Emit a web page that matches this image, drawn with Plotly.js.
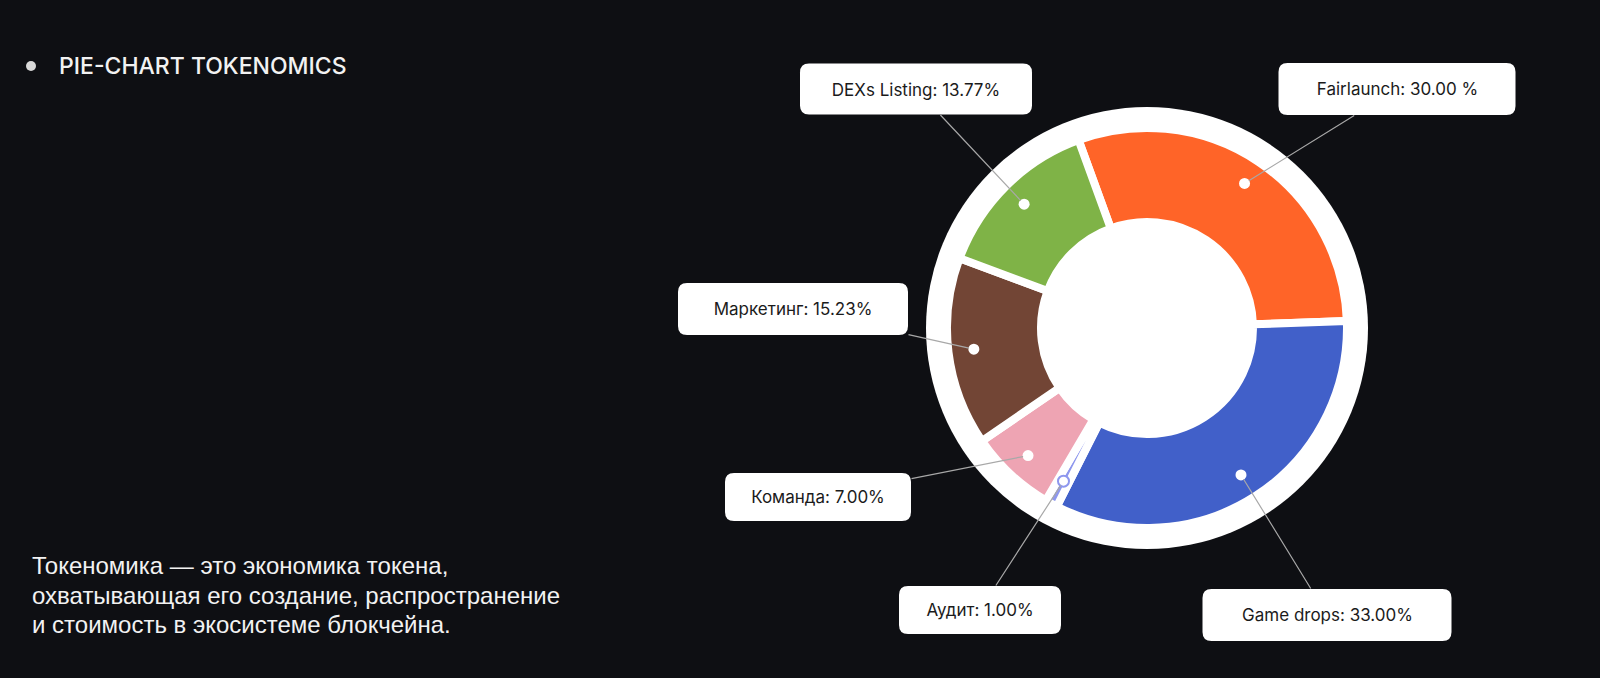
<!DOCTYPE html>
<html>
<head>
<meta charset="utf-8">
<script src="https://cdn.plot.ly/plotly-3.0.1.min.js"></script>
<style>
  html, body { margin: 0; padding: 0; background: #0e0f13; }
  #chart { width: 1600px; height: 678px; }
</style>
</head>
<body>
<div id="chart"></div>
<script>
// ---- data ----
const categories = ['Fairlaunch', 'Game drops', 'Аудит', 'Команда', 'Маркетинг', 'DEXs Listing'];
const shares = [30.00, 33.00, 1.00, 7.00, 15.23, 13.77];
const labelTexts = ['Fairlaunch: 30.00 %', 'Game drops: 33.00%', 'Аудит: 1.00%', 'Команда: 7.00%', 'Маркетинг: 15.23%', 'DEXs Listing: 13.77%'];
const sliceColors = ['#ff6428', '#4160c9', '#8e97ee', '#eea4b3', '#724535', '#7fb347'];
const titleText = 'PIE-CHART TOKENOMICS';
const paragraphLines = ['Токеномика — это экономика токена,', 'охватывающая его создание, распространение', 'и стоимость в экосистеме блокчейна.'];

// ---- layout constants (pixels) ----
const W = 1600, H = 678;
const CX = 1147, CY = 328;          // donut centre
const R_BG = 221;                   // white disc radius
const GAP = 8;                      // white gap stroke
const R_OUT = 196 + GAP / 2;        // pie radius (stroke eats half the gap)
const R_IN = 110 - GAP / 2;
const ROT = -20;
const DOT_R_FRAC = 0.89;
const boxes = [
  {cx: 1397, cy: 89,  w: 237, h: 52},
  {cx: 1327, cy: 615, w: 249, h: 52},
  {cx: 980,  cy: 610, w: 162, h: 48},
  {cx: 818,  cy: 497, w: 186, h: 48},
  {cx: 793,  cy: 309, w: 230, h: 52},
  {cx: 916,  cy: 89,  w: 232, h: 51}
];
const paraY = [565, 595, 624.5];

const px = x => x / W;
const py = y => 1 - y / H;

function domainFor(r) {
  return {x: [px(CX - r), px(CX + r)], y: [py(CY + r), py(CY - r)]};
}

const bgTrace = {
  type: 'pie', values: [1], labels: [''], sort: false,
  marker: {colors: ['#ffffff'], line: {width: 0}},
  textinfo: 'none', hoverinfo: 'skip', showlegend: false,
  domain: domainFor(R_BG)
};

const pieTrace = {
  type: 'pie', values: shares, labels: categories, sort: false,
  direction: 'clockwise', rotation: ROT, hole: R_IN / R_OUT,
  marker: {colors: sliceColors, line: {color: '#ffffff', width: GAP}},
  textinfo: 'none', hoverinfo: 'label+percent', showlegend: false,
  domain: domainFor(R_OUT)
};

// mid-angle of each slice from the data
const total = shares.reduce((a, b) => a + b, 0);
let cum = 0;
const dots = shares.map(v => {
  const mid = (ROT + (cum + v / 2) / total * 360) * Math.PI / 180;
  cum += v;
  const r = 196 * DOT_R_FRAC;
  return {x: CX + r * Math.sin(mid), y: CY - r * Math.cos(mid)};
});

function roundRectPath(x0, y0, x1, y1, rad) {
  const rx = rad / W, ry = rad / H;
  const a = px(x0), b = px(x1), t = py(y0), u = py(y1);
  return `M ${a + rx},${t} L ${b - rx},${t} Q ${b},${t} ${b},${t - ry} L ${b},${u + ry} Q ${b},${u} ${b - rx},${u} L ${a + rx},${u} Q ${a},${u} ${a},${u + ry} L ${a},${t - ry} Q ${a},${t} ${a + rx},${t} Z`;
}

const shapes = [];
const annotations = [];

// bullet
shapes.push({type: 'circle', xref: 'paper', yref: 'paper',
  x0: px(26), x1: px(36), y0: py(71), y1: py(61),
  fillcolor: '#d9d9d9', line: {width: 0}});

categories.forEach((c, i) => {
  const b = boxes[i], d = dots[i];
  shapes.push({type: 'path', xref: 'paper', yref: 'paper',
    path: roundRectPath(b.cx - b.w / 2, b.cy - b.h / 2, b.cx + b.w / 2, b.cy + b.h / 2, 9),
    fillcolor: '#ffffff', line: {width: 0}, layer: 'above'});
  const isAudit = i === 2;
  shapes.push({type: 'circle', xref: 'paper', yref: 'paper',
    x0: px(d.x - 5.5), x1: px(d.x + 5.5), y0: py(d.y + 5.5), y1: py(d.y - 5.5),
    fillcolor: '#ffffff', line: {width: isAudit ? 2 : 0, color: sliceColors[i]}, layer: 'above'});
  annotations.push({
    xref: 'paper', yref: 'paper', x: px(d.x), y: py(d.y),
    ax: b.cx - d.x, ay: b.cy - d.y,
    showarrow: true, arrowhead: 0, arrowwidth: 1.2, arrowcolor: '#a8a8a8',
    standoff: 5,
    text: labelTexts[i], width: b.w, height: b.h, borderpad: 0,
    font: {family: 'Inter, "Open Sans", sans-serif', size: 17, color: '#1b1b1b'}
  });
});

annotations.push({
  xref: 'paper', yref: 'paper', x: px(57), y: py(66), xanchor: 'left', yanchor: 'middle',
  showarrow: false, text: titleText,
  font: {family: 'Inter, "Open Sans", sans-serif', size: 23, weight: 500, color: '#f2f2f2'}
});

paragraphLines.forEach((line, i) => {
  annotations.push({
    xref: 'paper', yref: 'paper', x: px(30), y: py(paraY[i]), xanchor: 'left', yanchor: 'middle',
    align: 'left', showarrow: false, text: line,
    font: {family: '"Liberation Sans", Arial, sans-serif', size: 24, color: '#f2f2f2'}
  });
});

const layout = {
  width: W, height: H,
  margin: {l: 0, r: 0, t: 0, b: 0},
  paper_bgcolor: '#0e0f13', plot_bgcolor: '#0e0f13',
  showlegend: false,
  shapes: shapes, annotations: annotations
};

Plotly.newPlot('chart', [bgTrace, pieTrace], layout, {displayModeBar: false, responsive: false});
</script>
</body>
</html>
